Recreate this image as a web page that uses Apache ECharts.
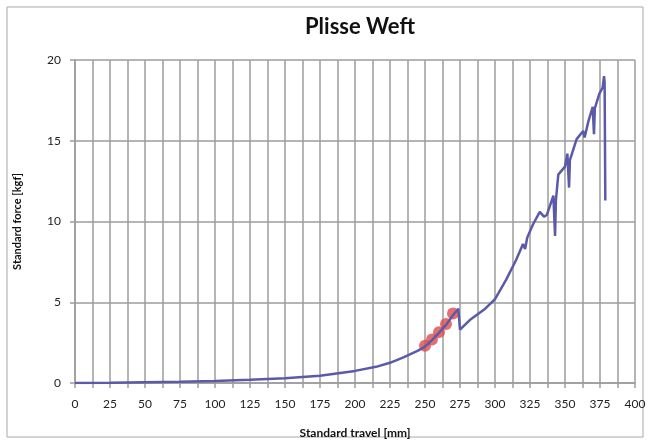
<!DOCTYPE html>
<html>
<head>
<meta charset="utf-8">
<script src="https://cdn.jsdelivr.net/npm/echarts@6/dist/echarts.min.js"></script>
<style>
  html, body { margin: 0; padding: 0; background: #fff; }
  #chart { width: 648px; height: 441px; }
</style>
</head>
<body>
<div id="chart"></div>
<script>
// Tensile test trace: travel (mm) vs force (kgf)
const travel = [0, 25, 50, 75, 100, 125, 150, 175, 200, 215, 225, 235, 245, 250,
  255, 260, 265, 270, 273.8, 275, 282, 293, 300, 308, 315, 320, 321.5, 323, 327,
  332, 335, 337, 341.7, 342.9, 343.5, 345.2, 350, 351.7, 352.9, 353.5, 358.3, 363,
  364, 366.7, 369.8, 370.7, 371.3, 374.5, 376.9, 377.9, 378.3, 378.8];
const force = [0, 0.02, 0.05, 0.08, 0.13, 0.2, 0.3, 0.45, 0.75, 1.0, 1.25, 1.6, 2.0, 2.25,
  2.65, 3.1, 3.6, 4.2, 4.6, 3.3, 3.9, 4.6, 5.2, 6.4, 7.6, 8.6, 8.3, 9.0, 9.8,
  10.6, 10.3, 10.4, 11.6, 9.1, 11.3, 12.9, 13.4, 14.2, 12.1, 13.8, 15.1, 15.6,
  15.2, 16.2, 17.1, 15.4, 17.0, 17.9, 18.3, 19.0, 18.6, 11.3];

// Highlighted samples
const markTravel = [250, 255, 260, 265, 270];
const markForce = [2.3, 2.7, 3.15, 3.65, 4.3];

const xTicks = [0, 25, 50, 75, 100, 125, 150, 175, 200, 225, 250, 275, 300, 325, 350, 375, 400];
const yTicks = [0, 5, 10, 15, 20];

const curve = travel.map((t, i) => [t, force[i]]);
const marks = markTravel.map((t, i) => [t, markForce[i]]);

const chart = echarts.init(document.getElementById('chart'), null, { renderer: 'canvas' });
const gridColor = '#9c9c9c';
const fontFam = 'Lato, "Open Sans", sans-serif';

chart.setOption({
  animation: false,
  backgroundColor: '#fff',
  graphic: [{
    type: 'rect',
    shape: { x: 7, y: 7, width: 636, height: 430 },
    style: { fill: 'none', stroke: '#a8a8a8', lineWidth: 1 },
    silent: true, z: -1
  }],
  title: {
    text: 'Plisse Weft',
    left: 355, top: 11, textAlign: 'center',
    textStyle: { fontFamily: fontFam, fontWeight: 'bold', fontSize: 22, color: '#111' }
  },
  grid: { left: 75, right: 13, top: 60, bottom: 58, containLabel: false, outerBoundsMode: 'none' },
  xAxis: {
    type: 'value', min: 0, max: 400, interval: 12.5,
    name: 'Standard travel [mm]', nameLocation: 'middle', nameGap: 44,
    nameTextStyle: { fontFamily: fontFam, fontWeight: 'bold', fontSize: 12, color: '#111' },
    axisLine: { show: true, lineStyle: { color: gridColor, width: 1.5 } },
    axisTick: { show: true, length: 5, lineStyle: { color: gridColor, width: 1.5 } },
    axisLabel: {
      margin: 15, fontFamily: fontFam, fontSize: 12, color: '#222',
      formatter: v => (xTicks.indexOf(v) >= 0 ? String(v) : '')
    },
    splitLine: { show: true, lineStyle: { color: gridColor, width: 1.5 } }
  },
  yAxis: {
    type: 'value', min: 0, max: 20, interval: 5,
    name: 'Standard force [kgf]', nameLocation: 'middle', nameGap: 52,
    nameTextStyle: { fontFamily: fontFam, fontWeight: 'bold', fontSize: 11, color: '#111' },
    axisLine: { show: true, lineStyle: { color: gridColor, width: 1.5 } },
    axisTick: { show: true, length: 5, lineStyle: { color: gridColor, width: 1.5 } },
    axisLabel: {
      margin: 14, fontFamily: fontFam, fontSize: 12, color: '#222',
      formatter: v => (yTicks.indexOf(v) >= 0 ? String(v) : '')
    },
    splitLine: { show: true, lineStyle: { color: gridColor, width: 1.5 } }
  },
  series: [
    {
      type: 'scatter', data: marks, symbol: 'circle', symbolSize: 12, z: 2,
      itemStyle: { color: '#e04a4a' }
    },
    {
      type: 'line', data: curve, showSymbol: false, z: 3,
      lineStyle: { color: '#5a5aa8', width: 2.5 }
    }
  ]
});
</script>
</body>
</html>
